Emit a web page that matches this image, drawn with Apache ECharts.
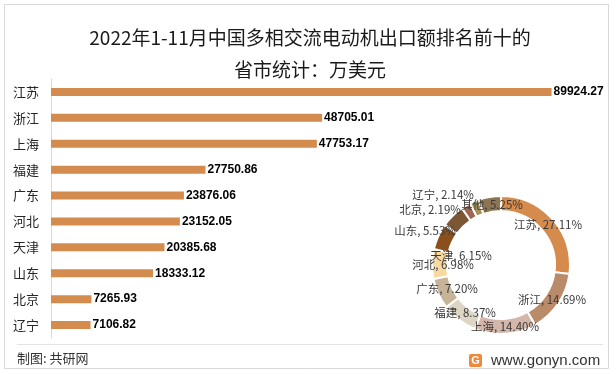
<!DOCTYPE html>
<html>
<head>
<meta charset="utf-8">
<script src="https://cdn.jsdelivr.net/npm/echarts@6/dist/echarts.min.js"></script>
<style>
html,body{margin:0;padding:0;background:#fff;}
#chart{width:616px;height:374px;}
</style>
</head>
<body>
<div id="chart"></div>
<script>
// ---- data ----
const barCategories = ['江苏', '浙江', '上海', '福建', '广东', '河北', '天津', '山东', '北京', '辽宁'];
const barValues = [89924.27, 48705.01, 47753.17, 27750.86, 23876.06, 23152.05, 20385.68, 18333.12, 7265.93, 7106.82];
const pieNames = ['江苏', '浙江', '上海', '福建', '广东', '河北', '天津', '山东', '北京', '辽宁', '其他'];
const pieShares = [27.11, 14.69, 14.40, 8.37, 7.20, 6.98, 6.15, 5.53, 2.19, 2.14, 5.25];
const titleText = '2022年1-11月中国多相交流电动机出口额排名前十的\n省市统计：万美元';

// ---- styles ----
const pieColors = ['#D58B4B', '#B98B68', '#D5B6AA', '#DED6C4', '#C7B498', '#F8D9A1', '#8B4F1C', '#7D5636', '#9E6652', '#A4925A', '#8C7552'];
const pieLabelPos = [[548,225],[552,300],[505,327],[465,313],[447,289],[443,265],[461,256],[425,231],[430,210],[443,195],[492,205]];
const FONT = '"Noto Sans CJK SC", "Noto Sans", sans-serif';

const chart = echarts.init(document.getElementById('chart'), null, {renderer: 'canvas'});

chart.setOption({
  backgroundColor: '#fff',
  animation: false,
  title: {
    text: titleText,
    left: 305,
    top: 17,
    textAlign: 'center',
    textStyle: {fontFamily: FONT, fontSize: 19, fontWeight: 'normal', color: '#1a1a1a', lineHeight: 32}
  },
  grid: {left: 51, top: 79, width: 501, height: 259, containLabel: false},
  xAxis: {type: 'value', min: 0, max: 90000, show: false},
  yAxis: {
    type: 'category',
    data: barCategories,
    inverse: true,
    axisLine: {show: true, lineStyle: {color: '#D9D9D9', width: 1}},
    axisTick: {show: false},
    axisLabel: {fontFamily: FONT, fontSize: 13, color: '#262626', margin: 12},
    splitLine: {show: false}
  },
  series: [
    {
      type: 'bar',
      data: barValues,
      barWidth: 8,
      itemStyle: {color: '#D48B4E'},
      label: {
        show: true,
        position: 'right',
        distance: 2,
        fontFamily: '"Liberation Sans", Arial, sans-serif',
        fontWeight: 'bold',
        fontSize: 12,
        color: '#000',
        formatter: p => p.value.toFixed(2)
      },
      z: 2
    },
    {
      type: 'pie',
      center: [501, 265],
      radius: [54, 69],
      startAngle: 90,
      clockwise: true,
      avoidLabelOverlap: false,
      itemStyle: {borderColor: '#fff', borderWidth: 2},
      label: {
        show: true,
        position: 'outside',
        fontFamily: FONT,
        fontSize: 11.5,
        color: '#3a3a3a',
        formatter: p => p.name + ', ' + p.value.toFixed(2) + '%'
      },
      labelLine: {show: false},
      labelLayout: function (params) {
        const pos = pieLabelPos[params.dataIndex];
        return {x: pos[0], y: pos[1], align: 'center', verticalAlign: 'middle'};
      },
      data: pieNames.map((n, i) => ({name: n, value: pieShares[i], itemStyle: {color: pieColors[i]}})),
      z: 5
    }
  ],
  graphic: [
    {type: 'rect', shape: {x: 4.5, y: 4.5, width: 604, height: 364}, style: {fill: 'none', stroke: '#D9D9D9', lineWidth: 1}, silent: true},
    {type: 'line', shape: {x1: 17, y1: 344.5, x2: 603, y2: 344.5}, style: {stroke: '#E3E3E3', lineWidth: 1}},
    {type: 'text', left: 17, top: 352, style: {text: '制图: 共研网', fontFamily: FONT, fontSize: 13, fill: '#333'}},
    {type: 'rect', shape: {x: 469, y: 354, width: 13, height: 13, r: 2}, style: {fill: '#F0893A'}},
    {type: 'text', x: 475.5, y: 360.5, style: {text: 'G', fontFamily: '"Liberation Sans", Arial, sans-serif', fontWeight: 'bold', fontSize: 11, fill: '#fff', align: 'center', verticalAlign: 'middle'}},
    {type: 'text', x: 491, y: 360.5, style: {text: 'www.gonyn.com', fontFamily: '"Liberation Sans", Arial, sans-serif', fontSize: 15, fill: '#333', verticalAlign: 'middle'}}
  ]
});
</script>
</body>
</html>
